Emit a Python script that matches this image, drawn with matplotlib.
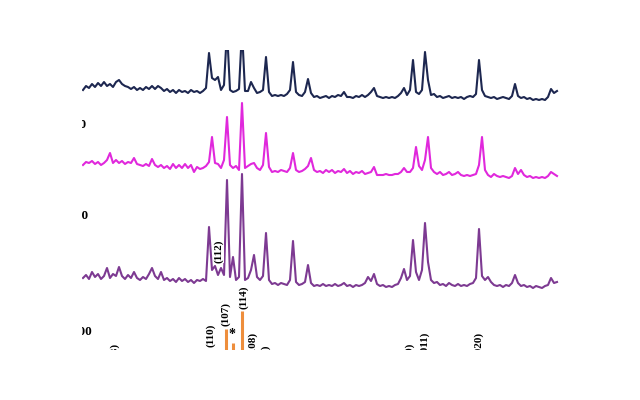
import numpy as np
import matplotlib
matplotlib.use("Agg")
import matplotlib.pyplot as plt

# 2-theta scan grid (deg)
two_theta = np.linspace(10.0, 57.4, 159)

# intensities (a.u.)
top_counts = [
    10, 14, 12, 16, 13, 17, 14, 18, 14, 16,
    13, 18, 20, 16, 14, 13, 11, 13, 10, 12,
    10, 13, 11, 14, 11, 14, 12, 9, 11, 8,
    10, 7, 10, 8, 9, 7, 10, 8, 9, 7,
    9, 12, 47, 22, 20, 23, 10, 15, 70, 10,
    8, 9, 11, 70, 9, 9, 18, 12, 7, 8,
    10, 43, 8, 4, 5, 4, 5, 4, 6, 10,
    38, 8, 5, 4, 8, 21, 7, 3, 4, 2,
    3, 4, 2, 4, 3, 5, 4, 8, 3, 3,
    2, 4, 3, 5, 3, 5, 8, 12, 4, 3,
    2, 3, 2, 3, 2, 4, 7, 12, 5, 10,
    40, 8, 6, 10, 48, 20, 5, 6, 3, 4,
    2, 3, 4, 2, 3, 2, 3, 1, 3, 4,
    3, 6, 40, 10, 4, 3, 2, 3, 1, 2,
    3, 2, 1, 4, 16, 4, 2, 3, 1, 2,
    0, 1, 0, 1, 0, 3, 11, 7, 9,
]
pink_counts = [
    15, 18, 17, 19, 16, 18, 15, 17, 20, 27,
    17, 20, 17, 19, 16, 18, 17, 22, 16, 15,
    14, 16, 14, 21, 15, 13, 15, 12, 14, 11,
    16, 12, 15, 12, 16, 12, 15, 8, 13, 11,
    12, 14, 18, 43, 17, 16, 12, 20, 63, 15,
    12, 14, 10, 77, 12, 14, 16, 17, 12, 10,
    15, 47, 13, 8, 9, 8, 10, 9, 8, 12,
    27, 10, 8, 9, 11, 14, 22, 10, 8, 9,
    7, 10, 8, 10, 7, 9, 8, 11, 7, 9,
    6, 8, 7, 9, 6, 7, 8, 13, 5, 5,
    5, 6, 5, 5, 6, 6, 8, 12, 8, 8,
    12, 33, 14, 10, 20, 43, 12, 8, 6, 8,
    5, 6, 8, 5, 6, 8, 5, 4, 5, 4,
    5, 6, 15, 43, 10, 5, 3, 6, 4, 3,
    4, 3, 2, 4, 12, 6, 10, 5, 3, 4,
    2, 3, 2, 3, 2, 4, 8, 6, 4,
]
purple_counts = [
    12, 15, 11, 18, 13, 16, 11, 14, 22, 12,
    16, 14, 23, 14, 11, 15, 12, 18, 12, 10,
    13, 11, 16, 22, 14, 11, 18, 10, 12, 9,
    11, 8, 12, 9, 11, 8, 10, 7, 10, 9,
    11, 9, 63, 20, 24, 15, 22, 15, 110, 13,
    33, 10, 13, 116, 10, 12, 20, 35, 13, 10,
    14, 57, 10, 6, 7, 5, 7, 6, 5, 10,
    49, 8, 5, 6, 8, 25, 7, 4, 5, 4,
    6, 4, 5, 4, 6, 4, 5, 7, 4, 5,
    3, 5, 4, 5, 7, 13, 9, 16, 6, 4,
    5, 3, 4, 3, 5, 6, 12, 21, 10, 14,
    50, 18, 10, 20, 67, 28, 10, 7, 8, 5,
    6, 4, 7, 5, 4, 6, 4, 5, 4, 6,
    7, 12, 61, 14, 10, 13, 8, 5, 4, 5,
    3, 5, 4, 7, 15, 7, 4, 5, 3, 4,
    2, 4, 3, 2, 4, 5, 12, 7, 8,
]

# reference pattern sticks
ref_pos = [24.3, 25.0, 25.85]
ref_int = [31, 17, 49]

# peak labels: (text, 2theta, y, va)
hkl_labels = [
    ("(110)", 22.8, 65, "center"),
    ("(107)", 24.3, 86, "center"),
    ("(114)", 26.1, 103, "center"),
    ("(108)", 27.0, 68, "top"),
    ("(113)", 28.3, 55, "top"),
    ("(003)", 13.2, 57, "top"),
    ("(110)", 42.7, 57, "top"),
    ("(011)", 44.2, 68, "top"),
    ("(020)", 49.6, 68, "top"),
]

offsets = [300, 220, 110]
colors = ["#1d2750", "#e028dc", "#7d3a92"]
ref_color = "#ee8e3c"

fig = plt.figure(figsize=(6.4, 4), dpi=100)
ax = fig.add_axes([82 / 640, 50 / 400, 478 / 640, 300 / 400])
ax.set_axis_off()
ax.set_xlim(9.9, 57.7)
ax.set_ylim(50, 350)

for counts, off, c in zip([top_counts, pink_counts, purple_counts], offsets, colors):
    ax.plot(two_theta, np.array(counts) + off, color=c, lw=1.5)

ax.vlines(ref_pos, 40, np.array(ref_int) + 40, color=ref_color, lw=2.2)

serif = "Liberation Serif"
for txt, x, y, va in hkl_labels:
    ax.text(x, y, txt, rotation=90, ha="center", va=va, fontsize=8,
            family=serif, weight="bold", clip_on=True)
ax.text(23.6, 149, "(112)", rotation=90, ha="center", va="center", fontsize=8,
        family=serif, weight="bold", clip_on=True,
        bbox=dict(facecolor="white", edgecolor="none", pad=0.5))
ax.text(24.9, 66, "*", ha="center", va="center", fontsize=10, family=serif,
        weight="bold", clip_on=True)

# sample names (mostly outside the visible window)
ax.text(10.35, 275, "x = 0.10", ha="right", va="center", fontsize=9.5,
        family=serif, weight="bold", clip_on=True)
ax.text(10.5, 184, "x = 0.20", ha="right", va="center", fontsize=9.5,
        family=serif, weight="bold", clip_on=True)
ax.text(10.9, 68, "PDF#00", ha="right", va="center", fontsize=9.5,
        family=serif, weight="bold", clip_on=True)

fig.savefig("out.png", dpi=100)
